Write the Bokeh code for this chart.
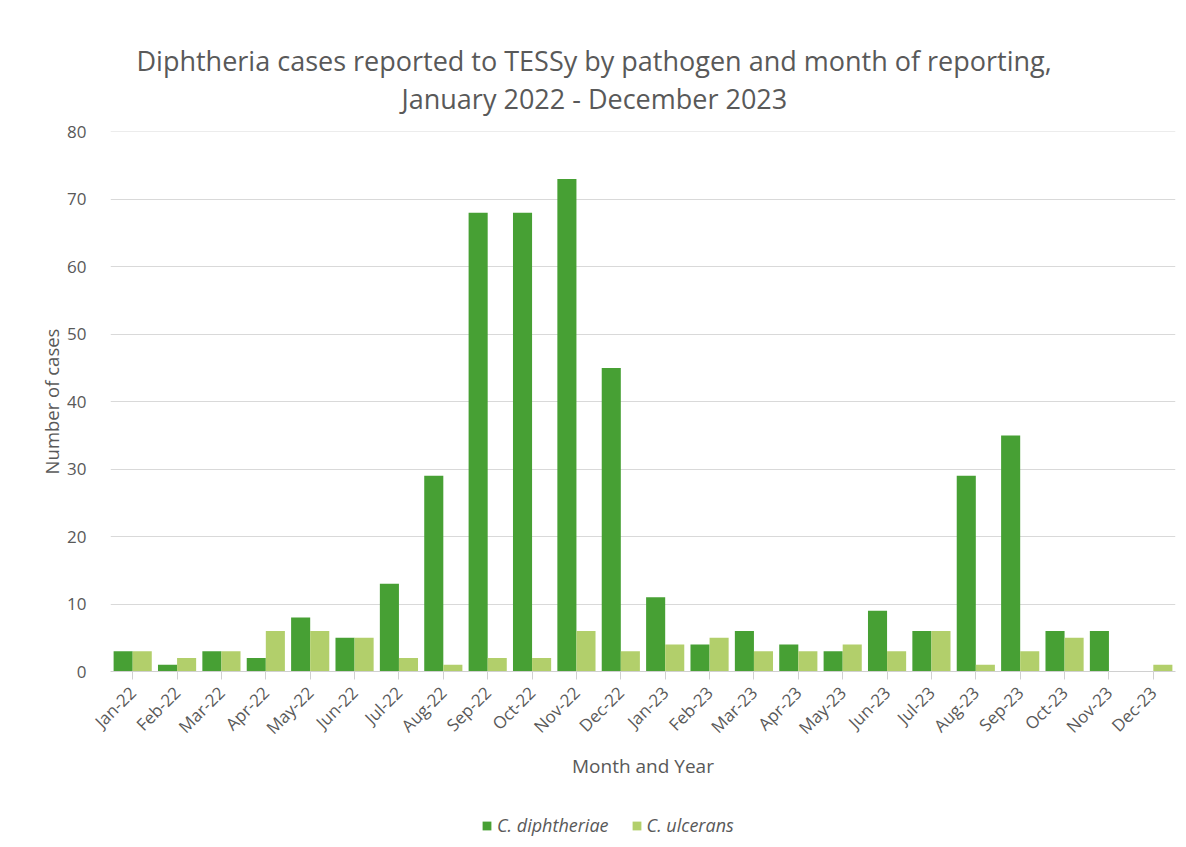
from bokeh.plotting import figure
from bokeh.models import ColumnDataSource, FactorRange, Range1d, Title, Legend, LegendItem, SingleIntervalTicker
from bokeh.layouts import column
from bokeh.transform import dodge
from bokeh.embed import file_html
from bokeh.resources import INLINE
import math

months = ["Jan-22", "Feb-22", "Mar-22", "Apr-22", "May-22", "Jun-22", "Jul-22", "Aug-22",
          "Sep-22", "Oct-22", "Nov-22", "Dec-22", "Jan-23", "Feb-23", "Mar-23", "Apr-23",
          "May-23", "Jun-23", "Jul-23", "Aug-23", "Sep-23", "Oct-23", "Nov-23", "Dec-23"]
diphtheriae = [3, 1, 3, 2, 8, 5, 13, 29, 68, 68, 73, 45, 11, 4, 6, 4, 3, 9, 6, 29, 35, 6, 6, 0]
ulcerans = [3, 2, 3, 6, 6, 5, 2, 1, 2, 2, 6, 3, 4, 5, 3, 3, 4, 3, 6, 1, 3, 5, 0, 1]

series_names = ["C. diphtheriae", "C. ulcerans"]
title_lines = ["Diphtheria cases reported to TESSy by pathogen and month of reporting,",
               "January 2022 - December 2023"]

DARK = "#47a034"
LIGHT = "#b2cf6b"
TXT = "#595959"
FONT = "Open Sans"

src = ColumnDataSource(dict(month=months, d=diphtheriae, u=ulcerans))

W = 1186
H_MAIN, H_LEG = 790, 57
p = figure(width=W, height=H_MAIN, x_range=FactorRange(*months, range_padding=0),
           y_range=Range1d(0, 80.05), output_backend="svg", toolbar_location=None,
           min_border_left=110, min_border_right=11, min_border_top=131, min_border_bottom=119)

r1 = p.vbar(x=dodge("month", -0.215, range=p.x_range), top="d", width=0.43, source=src,
            fill_color=DARK, line_color=None)
r2 = p.vbar(x=dodge("month", 0.215, range=p.x_range), top="u", width=0.43, source=src,
            fill_color=LIGHT, line_color=None)

p.outline_line_color = None
p.xgrid.grid_line_color = None
p.ygrid.grid_line_color = "#d9d9d9"
p.ygrid.grid_line_width = 1

p.yaxis.ticker = SingleIntervalTicker(interval=10)
p.yaxis.axis_line_color = None
p.yaxis.major_tick_line_color = None
p.yaxis.minor_tick_line_color = None
p.yaxis.major_label_standoff = 18
p.yaxis.major_label_text_font = FONT
p.yaxis.major_label_text_font_size = "17px"
p.yaxis.major_label_text_color = TXT
p.yaxis.axis_label = "Number of cases"
p.yaxis.axis_label_text_font = FONT
p.yaxis.axis_label_text_font_style = "normal"
p.yaxis.axis_label_text_font_size = "18.5px"
p.yaxis.axis_label_text_color = TXT
p.yaxis.axis_label_standoff = 0

p.xaxis.axis_line_color = "#d0d0d0"
p.xaxis.major_tick_line_color = "#d0d0d0"
p.xaxis.major_tick_out = 8
p.xaxis.major_tick_in = 0
p.xaxis.major_label_orientation = math.pi / 4
p.xaxis.major_label_text_font = FONT
p.xaxis.major_label_text_font_size = "17px"
p.xaxis.major_label_text_color = TXT
p.xaxis.major_label_standoff = 10
p.xaxis.axis_label = "Month and Year"
p.xaxis.axis_label_text_font = FONT
p.xaxis.axis_label_text_font_style = "normal"
p.xaxis.axis_label_text_font_size = "19px"
p.xaxis.axis_label_text_color = TXT
p.xaxis.axis_label_standoff = 3

# title (two lines); second line added first so it sits nearest the frame
for line, off, std in ((title_lines[1], 291, 29), (title_lines[0], 26, -30)):
    p.add_layout(Title(text=line, align="left", offset=off, text_font=FONT,
                       text_font_size="27px", text_font_style="normal",
                       text_color=TXT, standoff=std), "above")

# legend strip below the chart (swatch glyphs sit outside the strip's visible range)
lg = figure(width=W, height=H_LEG, x_range=Range1d(0, 1), y_range=Range1d(0, 1),
            output_backend="svg", toolbar_location=None, min_border=0)
lg.axis.visible = False
lg.grid.visible = False
lg.outline_line_color = None
l1 = lg.vbar(x=[-10], top=[-10], width=0.1, fill_color=DARK, line_color=None)
l2 = lg.vbar(x=[-10], top=[-10], width=0.1, fill_color=LIGHT, line_color=None)
legend = Legend(items=[LegendItem(label=series_names[0], renderers=[l1]),
                       LegendItem(label=series_names[1], renderers=[l2])],
                orientation="horizontal", location=(371, 10), margin=0, padding=0,
                label_text_font=FONT, label_text_font_style="italic",
                label_text_font_size="18px", label_text_color=TXT,
                glyph_width=11, glyph_height=11, spacing=22, label_standoff=5,
                background_fill_alpha=0, border_line_color=None)
lg.add_layout(legend, "center")

layout = column(p, lg, spacing=0)
open("out.html", "w").write(file_html(layout, INLINE))
